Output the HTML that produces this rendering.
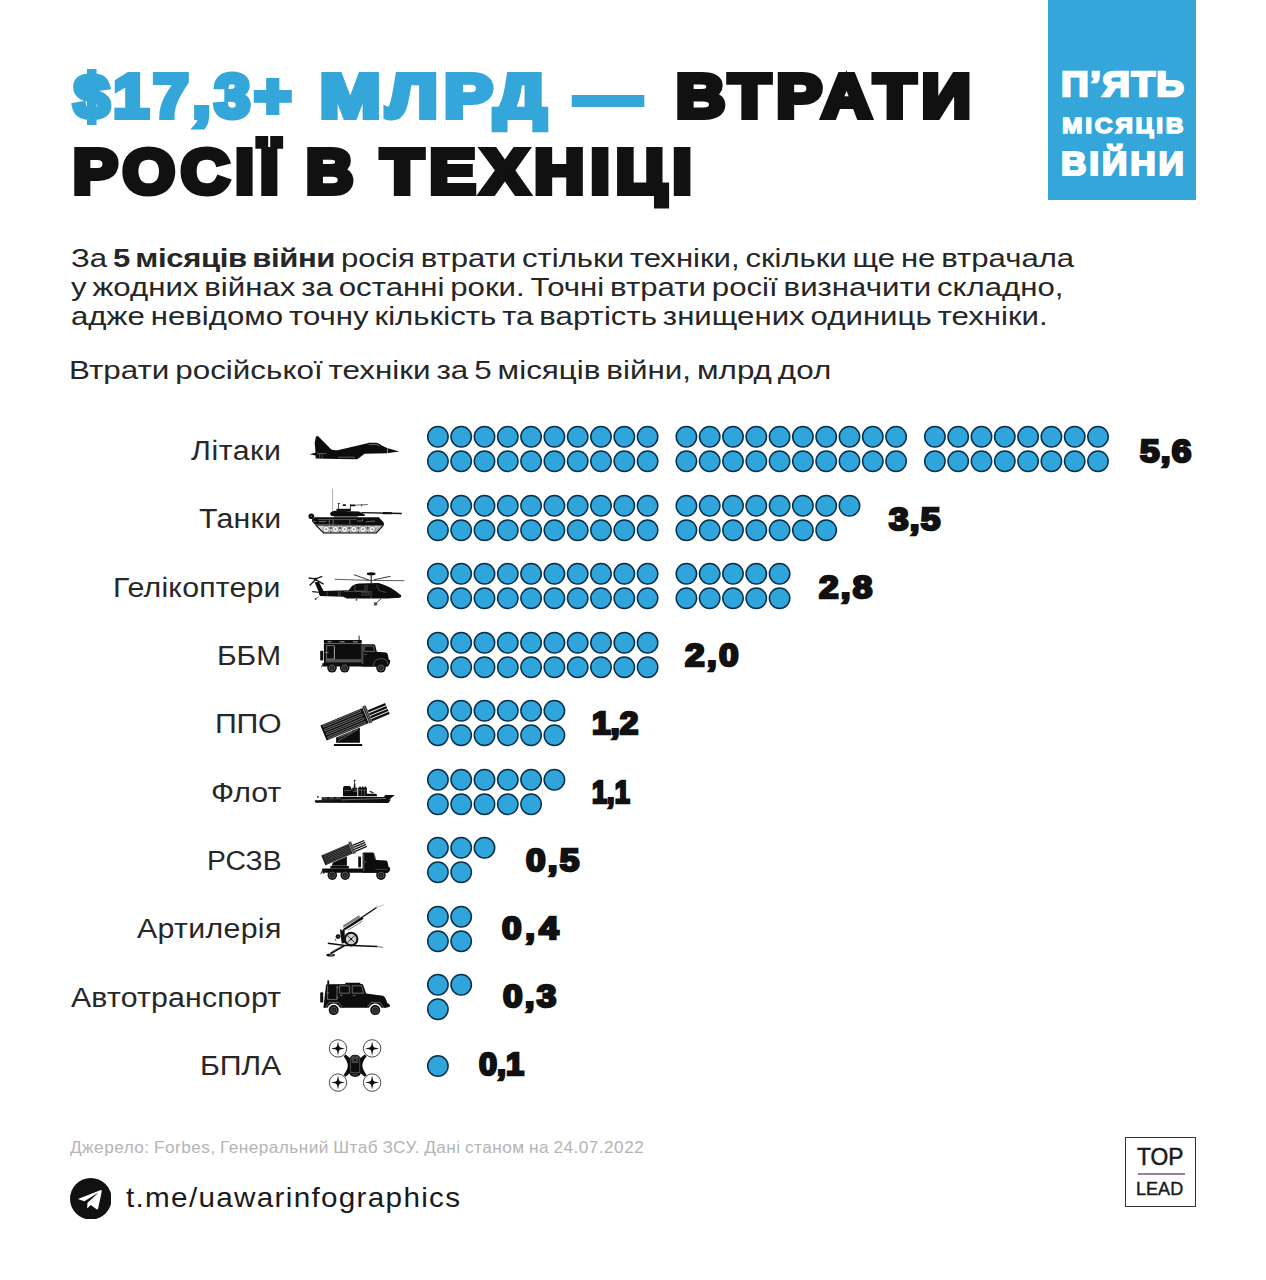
<!DOCTYPE html>
<html lang="uk">
<head>
<meta charset="utf-8">
<title>$17,3+ млрд — втрати росії в техніці</title>
<style>
html,body{margin:0;padding:0;background:#fff}
body{width:1266px;height:1280px;position:relative;overflow:hidden;font-family:"Liberation Sans",sans-serif;color:#111111}
.t{position:absolute;white-space:nowrap;line-height:1;transform-origin:0 0;display:block;margin:0;padding:0;font-weight:400}
p b{letter-spacing:-.3px}
h1,p,ul,li,figure{margin:0;padding:0;font-weight:400;font-size:inherit;list-style:none}
.badge{position:absolute;left:1048px;top:0;width:148px;height:199.5px;background:#35a6da}
.dots{position:absolute;overflow:visible}
.dots circle{fill:#30a5db;stroke:#072f4b;stroke-width:1.5}
.ico{position:absolute;left:0;top:0;overflow:visible}
.logo{position:absolute;left:1125px;top:1137px;width:69.4px;height:68.4px;border:1.3px solid #333}
.logo i{position:absolute;left:11.5px;top:35.1px;width:47px;height:1.6px;background:#9a7ca6}
.tg{position:absolute;left:69.8px;top:1177.7px}
</style>
</head>
<body>
<header>
<h1>
<span class="t" style="left:73.69px;top:65.07px;font-size:61.58px;transform:scaleX(1.0293);letter-spacing:4.2px;font-weight:700;-webkit-text-stroke:6.0px currentColor;color:#35a6da;">$17,3+</span>
<span class="t" style="left:319.72px;top:65.07px;font-size:61.58px;transform:scaleX(1.1752);letter-spacing:5.6px;font-weight:700;-webkit-text-stroke:6.0px currentColor;color:#35a6da;">МЛРД</span>
<span class="t" style="left:575.02px;top:65.07px;font-size:61.58px;transform:scaleX(1.0735);font-weight:700;-webkit-text-stroke:6.0px currentColor;color:#35a6da;">—</span>
<span class="t" style="left:675.99px;top:65.07px;font-size:61.58px;transform:scaleX(1.1051);letter-spacing:5.6px;font-weight:700;-webkit-text-stroke:6.0px currentColor;">ВТРАТИ</span>
<span class="t" style="left:72.82px;top:140.86px;font-size:62.3px;transform:scaleX(1.075);letter-spacing:5.6px;font-weight:700;-webkit-text-stroke:6.0px currentColor;">РОСІЇ</span>
<span class="t" style="left:306.15px;top:140.86px;font-size:62.3px;transform:scaleX(1.0511);font-weight:700;-webkit-text-stroke:6.0px currentColor;">В</span>
<span class="t" style="left:381.23px;top:140.86px;font-size:62.3px;transform:scaleX(1.1106);letter-spacing:5.6px;font-weight:700;-webkit-text-stroke:6.0px currentColor;">ТЕХНІЦІ</span>
</h1>
<aside class="badge">
<span class="t" style="left:12.94px;top:66.5px;font-size:35.68px;transform:scaleX(1.08);letter-spacing:1.331px;font-weight:700;-webkit-text-stroke:2.4px currentColor;color:#fff;">П’ЯТЬ</span>
<span class="t" style="left:13.58px;top:113.86px;font-size:22.73px;transform:scaleX(1.08);letter-spacing:2.519px;font-weight:700;-webkit-text-stroke:1.6px currentColor;color:#fff;">МІСЯЦІВ</span>
<span class="t" style="left:12.83px;top:148.27px;font-size:32.52px;transform:scaleX(1.08);letter-spacing:2.756px;font-weight:700;-webkit-text-stroke:2.2px currentColor;color:#fff;">ВІЙНИ</span>
</aside>
</header>
<section>
<p class="t" style="left:70.7px;top:246.46px;font-size:25.8px;transform:scaleX(1.2046);word-spacing:-2.3px;color:#262626">За <b>5 місяців війни</b> росія втрати стільки техніки, скільки ще не втрачала</p>
<p class="t" style="left:70.7px;top:275.06px;font-size:25.8px;transform:scaleX(1.2088);word-spacing:-2.3px;color:#262626">у жодних війнах за останні роки. Точні втрати росії визначити складно,</p>
<p class="t" style="left:70.7px;top:303.56px;font-size:25.8px;transform:scaleX(1.2093);word-spacing:-2.3px;color:#262626">адже невідомо точну кількість та вартість знищених одиниць техніки.</p>
<p class="t" style="left:69.47px;top:358.16px;font-size:25.8px;transform:scaleX(1.2162);word-spacing:-2.3px;color:#262626;">Втрати російської техніки за 5 місяців війни, млрд дол</p>
</section>
<main>
<ul>
<li><span class="t" style="left:190.8px;top:438.11px;font-size:26.8px;transform:scaleX(1.13);letter-spacing:0.472px;color:#272727;">Літаки</span>
<svg class="ico" role="img" aria-label="літак" style="left:305px;top:430px" width="100" height="35" viewBox="305 430 100 35" fill="#0d0d0d"><path d="M316 436.6 Q317 435.4 318.2 436.2 L331.3 449.6 Q334.5 450.6 338.5 450.1 L367.6 443.3 L369 442.7 L376.4 442.7 Q379.5 443.6 381.4 445.2 L387 448 L399.2 451.5 L387 453.3 L364.5 453.8 L361 456.4 Q358.5 459 355.4 459.3 L338 459 L315.6 458.5 L315.6 455.5 L309.5 454.2 L315.5 452.8 L314.7 442.4 Z"/><path d="M387.5 448.3 V453.2" stroke="#fff" stroke-width=".5"/><path d="M368.5 444.6 L376.5 444.4 L379.5 446" stroke="#bbb" stroke-width=".5" fill="none"/><path d="M317 453.6 H326 M338 457.2 H355" stroke="#999" stroke-width=".6"/><path d="M319.5 454 V458.3 M322 454 V458.3" stroke="#999" stroke-width=".4"/></svg>
<svg class="dots" style="left:425px;top:424.2px" width="686.0" height="50" viewBox="0 0 686.0 50"><circle cx="12.9" cy="12.75" r="10.2"/><circle cx="36.2" cy="12.75" r="10.2"/><circle cx="59.5" cy="12.75" r="10.2"/><circle cx="82.8" cy="12.75" r="10.2"/><circle cx="106.1" cy="12.75" r="10.2"/><circle cx="129.4" cy="12.75" r="10.2"/><circle cx="152.7" cy="12.75" r="10.2"/><circle cx="176.0" cy="12.75" r="10.2"/><circle cx="199.3" cy="12.75" r="10.2"/><circle cx="222.6" cy="12.75" r="10.2"/><circle cx="261.4" cy="12.75" r="10.2"/><circle cx="284.7" cy="12.75" r="10.2"/><circle cx="308.0" cy="12.75" r="10.2"/><circle cx="331.3" cy="12.75" r="10.2"/><circle cx="354.6" cy="12.75" r="10.2"/><circle cx="377.9" cy="12.75" r="10.2"/><circle cx="401.2" cy="12.75" r="10.2"/><circle cx="424.5" cy="12.75" r="10.2"/><circle cx="447.8" cy="12.75" r="10.2"/><circle cx="471.1" cy="12.75" r="10.2"/><circle cx="509.9" cy="12.75" r="10.2"/><circle cx="533.2" cy="12.75" r="10.2"/><circle cx="556.5" cy="12.75" r="10.2"/><circle cx="579.8" cy="12.75" r="10.2"/><circle cx="603.1" cy="12.75" r="10.2"/><circle cx="626.4" cy="12.75" r="10.2"/><circle cx="649.7" cy="12.75" r="10.2"/><circle cx="673.0" cy="12.75" r="10.2"/><circle cx="12.9" cy="37.25" r="10.2"/><circle cx="36.2" cy="37.25" r="10.2"/><circle cx="59.5" cy="37.25" r="10.2"/><circle cx="82.8" cy="37.25" r="10.2"/><circle cx="106.1" cy="37.25" r="10.2"/><circle cx="129.4" cy="37.25" r="10.2"/><circle cx="152.7" cy="37.25" r="10.2"/><circle cx="176.0" cy="37.25" r="10.2"/><circle cx="199.3" cy="37.25" r="10.2"/><circle cx="222.6" cy="37.25" r="10.2"/><circle cx="261.4" cy="37.25" r="10.2"/><circle cx="284.7" cy="37.25" r="10.2"/><circle cx="308.0" cy="37.25" r="10.2"/><circle cx="331.3" cy="37.25" r="10.2"/><circle cx="354.6" cy="37.25" r="10.2"/><circle cx="377.9" cy="37.25" r="10.2"/><circle cx="401.2" cy="37.25" r="10.2"/><circle cx="424.5" cy="37.25" r="10.2"/><circle cx="447.8" cy="37.25" r="10.2"/><circle cx="471.1" cy="37.25" r="10.2"/><circle cx="509.9" cy="37.25" r="10.2"/><circle cx="533.2" cy="37.25" r="10.2"/><circle cx="556.5" cy="37.25" r="10.2"/><circle cx="579.8" cy="37.25" r="10.2"/><circle cx="603.1" cy="37.25" r="10.2"/><circle cx="626.4" cy="37.25" r="10.2"/><circle cx="649.7" cy="37.25" r="10.2"/><circle cx="673.0" cy="37.25" r="10.2"/></svg>
<b class="t" style="left:1140.13px;top:434.51px;font-size:32.0px;transform:scaleX(1.1);letter-spacing:1.038px;font-weight:700;-webkit-text-stroke:2.6px currentColor;">5,6</b></li>
<li><span class="t" style="left:198.5px;top:506.41px;font-size:26.8px;transform:scaleX(1.13);letter-spacing:0.273px;color:#272727;">Танки</span>
<svg class="ico" role="img" aria-label="танк" style="left:305px;top:486px" width="100" height="50" viewBox="305 486 100 50" fill="#0d0d0d"><path d="M332.6 488.5 V510.5" stroke="#8a8a8a" stroke-width=".7"/><circle cx="311.3" cy="516.3" r="2.8"/><circle cx="311.3" cy="516.3" r=".8" fill="#666"/><path d="M314.2 516.4 H317.4" stroke="#aaa" stroke-width=".4"/><path d="M337.6 503.5 H340 M338.5 503.4 V509.2 M350.4 504.4 V510.6" stroke="#222" stroke-width=".8"/><path d="M342.8 505.1 H345.8 M350.1 505.3 H355.4" stroke="#111" stroke-width="1.7"/><path d="M355.4 505.1 L367.8 504.5" stroke="#444" stroke-width=".8"/><circle cx="361.7" cy="505.4" r=".8" fill="#444"/><rect x="336.5" y="508.8" width="14.2" height="2.2"/><path d="M330.2 513.4 Q330.6 511.6 334.6 510.8 L359 511.4 L365.2 514.8 L364.2 516 L331.6 516 Q330 515.2 330.2 513.4 Z"/><rect x="333.8" y="516" width="24" height="1.5" fill="#666"/><path d="M361.6 512.7 L401.8 513.5" stroke="#111" stroke-width="1.3"/><path d="M383 513.1 L392 513.3" stroke="#111" stroke-width="2.1"/><path d="M314.4 517.3 L378.8 517.3 L383.6 522.6 L384.2 525.2 L315.4 524.9 L312 521.6 L312 519.4 Z"/><path d="M318 519.55 H356.6" stroke="#bbb" stroke-width=".4"/><path d="M329.3 520 V524.6 M333.2 520 V524.6 M349.8 520 V524.6 M357 521 H362.6 V519.2 M366 521.8 L375 521" stroke="#c4c4c4" stroke-width=".5" fill="none"/><path d="M312.4 521.2 L316 521.6 M318.6 521.6 H326" stroke="#ddd" stroke-width=".45"/><path d="M315.3 524.6 L383.3 525.2 L376.4 533.4 L323.3 533.4 Z" fill="#d9d9d9"/><path d="M330.8 526.2 l1.5 1.7 l-1.5 1.7 l-1.5 -1.7 Z M330.8 530.6 l1.2 1.3 l-1.2 1.3 l-1.2 -1.3 Z" fill="#555"/><path d="M340.0 526.2 l1.5 1.7 l-1.5 1.7 l-1.5 -1.7 Z M340.0 530.6 l1.2 1.3 l-1.2 1.3 l-1.2 -1.3 Z" fill="#555"/><path d="M349.2 526.2 l1.5 1.7 l-1.5 1.7 l-1.5 -1.7 Z M349.2 530.6 l1.2 1.3 l-1.2 1.3 l-1.2 -1.3 Z" fill="#555"/><path d="M358.4 526.2 l1.5 1.7 l-1.5 1.7 l-1.5 -1.7 Z M358.4 530.6 l1.2 1.3 l-1.2 1.3 l-1.2 -1.3 Z" fill="#555"/><path d="M367.6 526.2 l1.5 1.7 l-1.5 1.7 l-1.5 -1.7 Z M367.6 530.6 l1.2 1.3 l-1.2 1.3 l-1.2 -1.3 Z" fill="#555"/><circle cx="326.2" cy="529.3" r="3.2" fill="#f4f4f4" stroke="#6a6a6a" stroke-width=".7"/><circle cx="326.2" cy="529.3" r="1" fill="#8a8a8a"/><circle cx="335.4" cy="529.3" r="3.2" fill="#f4f4f4" stroke="#6a6a6a" stroke-width=".7"/><circle cx="335.4" cy="529.3" r="1" fill="#8a8a8a"/><circle cx="344.6" cy="529.3" r="3.2" fill="#f4f4f4" stroke="#6a6a6a" stroke-width=".7"/><circle cx="344.6" cy="529.3" r="1" fill="#8a8a8a"/><circle cx="353.8" cy="529.3" r="3.2" fill="#f4f4f4" stroke="#6a6a6a" stroke-width=".7"/><circle cx="353.8" cy="529.3" r="1" fill="#8a8a8a"/><circle cx="363.0" cy="529.3" r="3.2" fill="#f4f4f4" stroke="#6a6a6a" stroke-width=".7"/><circle cx="363.0" cy="529.3" r="1" fill="#8a8a8a"/><circle cx="372.2" cy="529.3" r="3.2" fill="#f4f4f4" stroke="#6a6a6a" stroke-width=".7"/><circle cx="372.2" cy="529.3" r="1" fill="#8a8a8a"/><path d="M378 526.4 L372.6 532.6 M380.4 526 L374.8 532.8" stroke="#555" stroke-width=".6"/><path d="M315.5 524.9 L323.5 533 L376.3 533 L383.3 525.3" fill="none" stroke="#111" stroke-width="1.2"/><path d="M316 525.2 H383" stroke="#1a1a1a" stroke-width=".9"/></svg>
<svg class="dots" style="left:425px;top:492.7px" width="437.5" height="50" viewBox="0 0 437.5 50"><circle cx="12.9" cy="12.75" r="10.2"/><circle cx="36.2" cy="12.75" r="10.2"/><circle cx="59.5" cy="12.75" r="10.2"/><circle cx="82.8" cy="12.75" r="10.2"/><circle cx="106.1" cy="12.75" r="10.2"/><circle cx="129.4" cy="12.75" r="10.2"/><circle cx="152.7" cy="12.75" r="10.2"/><circle cx="176.0" cy="12.75" r="10.2"/><circle cx="199.3" cy="12.75" r="10.2"/><circle cx="222.6" cy="12.75" r="10.2"/><circle cx="261.4" cy="12.75" r="10.2"/><circle cx="284.7" cy="12.75" r="10.2"/><circle cx="308.0" cy="12.75" r="10.2"/><circle cx="331.3" cy="12.75" r="10.2"/><circle cx="354.6" cy="12.75" r="10.2"/><circle cx="377.9" cy="12.75" r="10.2"/><circle cx="401.2" cy="12.75" r="10.2"/><circle cx="424.5" cy="12.75" r="10.2"/><circle cx="12.9" cy="37.25" r="10.2"/><circle cx="36.2" cy="37.25" r="10.2"/><circle cx="59.5" cy="37.25" r="10.2"/><circle cx="82.8" cy="37.25" r="10.2"/><circle cx="106.1" cy="37.25" r="10.2"/><circle cx="129.4" cy="37.25" r="10.2"/><circle cx="152.7" cy="37.25" r="10.2"/><circle cx="176.0" cy="37.25" r="10.2"/><circle cx="199.3" cy="37.25" r="10.2"/><circle cx="222.6" cy="37.25" r="10.2"/><circle cx="261.4" cy="37.25" r="10.2"/><circle cx="284.7" cy="37.25" r="10.2"/><circle cx="308.0" cy="37.25" r="10.2"/><circle cx="331.3" cy="37.25" r="10.2"/><circle cx="354.6" cy="37.25" r="10.2"/><circle cx="377.9" cy="37.25" r="10.2"/><circle cx="401.2" cy="37.25" r="10.2"/></svg>
<b class="t" style="left:889.43px;top:502.71px;font-size:32.0px;transform:scaleX(1.1);letter-spacing:1.084px;font-weight:700;-webkit-text-stroke:2.6px currentColor;">3,5</b></li>
<li><span class="t" style="left:113.14px;top:574.71px;font-size:26.8px;transform:scaleX(1.13);letter-spacing:0.168px;color:#272727;">Гелікоптери</span>
<svg class="ico" role="img" aria-label="гелікоптер" style="left:305px;top:568px" width="102" height="42" viewBox="305 568 102 42" fill="#0d0d0d"><ellipse cx="371.2" cy="573.8" rx="4.4" ry="1.5"/><path d="M371.2 575 V583.5" stroke="#111" stroke-width="1.1"/><path d="M334.8 579.3 L370 580.4 L404.4 580.7" stroke="#333" stroke-width=".8" fill="none"/><path d="M353.9 574.7 L369.4 580.2 M373.8 579.8 L390.5 576.3" stroke="#222" stroke-width=".9"/><path d="M308.6 578 L315.6 578.9 L322.3 576.3 M309.6 585.4 L315.6 579.6 L323.6 584.2" stroke="#1a1a1a" stroke-width="1.4" fill="none"/><circle cx="315.6" cy="579.2" r="1.4"/><path d="M314.6 582.2 L318.8 581.8 L323.6 591 L348.6 590.2 L352 586 Q355 584 359 583.6 L378.4 583.1 Q388 585.6 395.6 591 L401.2 595.2 Q401.6 597 400 597.7 L387 598.6 L347 598.6 L343.2 596.8 L320 596 Q318.6 594.4 319 592.6 Z"/><path d="M312.2 591.7 L321 592.5" stroke="#111" stroke-width="1.2"/><path d="M318.8 596.5 L315.8 598.8" stroke="#333" stroke-width=".7"/><circle cx="315.6" cy="599" r="1" fill="#444"/><path d="M381 599 L376.6 602.6" stroke="#333" stroke-width=".9"/><circle cx="375.6" cy="603.8" r="1.9" fill="#555"/><circle cx="356.5" cy="599.8" r=".9" fill="#333"/><path d="M355 585.4 V591 H365 V585 M367 584.6 V591.5 M376.6 584.4 L379 590.6 L386 592.4 M344 591.6 L355 591.4 L372 591.8 M327.2 591.6 V596 M338.6 591.3 V596.4 M340 591.3 V596.4 M371 592 V598 M361 592.8 H369 V595 H361" stroke="#8a8a8a" stroke-width=".45" fill="none"/></svg>
<svg class="dots" style="left:425px;top:561.2px" width="367.6" height="50" viewBox="0 0 367.6 50"><circle cx="12.9" cy="12.75" r="10.2"/><circle cx="36.2" cy="12.75" r="10.2"/><circle cx="59.5" cy="12.75" r="10.2"/><circle cx="82.8" cy="12.75" r="10.2"/><circle cx="106.1" cy="12.75" r="10.2"/><circle cx="129.4" cy="12.75" r="10.2"/><circle cx="152.7" cy="12.75" r="10.2"/><circle cx="176.0" cy="12.75" r="10.2"/><circle cx="199.3" cy="12.75" r="10.2"/><circle cx="222.6" cy="12.75" r="10.2"/><circle cx="261.4" cy="12.75" r="10.2"/><circle cx="284.7" cy="12.75" r="10.2"/><circle cx="308.0" cy="12.75" r="10.2"/><circle cx="331.3" cy="12.75" r="10.2"/><circle cx="354.6" cy="12.75" r="10.2"/><circle cx="12.9" cy="37.25" r="10.2"/><circle cx="36.2" cy="37.25" r="10.2"/><circle cx="59.5" cy="37.25" r="10.2"/><circle cx="82.8" cy="37.25" r="10.2"/><circle cx="106.1" cy="37.25" r="10.2"/><circle cx="129.4" cy="37.25" r="10.2"/><circle cx="152.7" cy="37.25" r="10.2"/><circle cx="176.0" cy="37.25" r="10.2"/><circle cx="199.3" cy="37.25" r="10.2"/><circle cx="222.6" cy="37.25" r="10.2"/><circle cx="261.4" cy="37.25" r="10.2"/><circle cx="284.7" cy="37.25" r="10.2"/><circle cx="308.0" cy="37.25" r="10.2"/><circle cx="331.3" cy="37.25" r="10.2"/><circle cx="354.6" cy="37.25" r="10.2"/></svg>
<b class="t" style="left:818.63px;top:570.91px;font-size:32.0px;transform:scaleX(1.1);letter-spacing:2.038px;font-weight:700;-webkit-text-stroke:2.6px currentColor;">2,8</b></li>
<li><span class="t" style="left:216.77px;top:643.01px;font-size:26.8px;transform:scaleX(1.1131);color:#272727;">ББМ</span>
<svg class="ico" role="img" aria-label="броньована машина" style="left:316px;top:632px" width="80" height="44" viewBox="316 632 80 44" fill="#0d0d0d"><path d="M359.1 635.6 V640.2" stroke="#222" stroke-width="1"/><rect x="323.9" y="640" width="37.8" height="3.4"/><path d="M327.6 641.8 H331.4 M339.6 641.8 H344.6 M353 641.8 H357.6" stroke="#eee" stroke-width=".7"/><rect x="323.9" y="643.6" width="37.8" height="20.6"/><rect x="325.6" y="659.2" width="35.6" height="3.2" fill="#555"/><path d="M322.4 663.2 H388 V666.4 H322.4 Z"/><rect x="320.2" y="650.8" width="3" height="9.8" rx=".8"/><path d="M326.6 645.6 H334.4 V659 H326.6 Z M334.4 647 V659 M324.8 652.6 H328.6" stroke="#cfcfcf" stroke-width=".5" fill="none"/><path d="M321.2 667.4 L323.6 662.8" stroke="#333" stroke-width=".8"/><path d="M361.7 644.3 L373.6 644.3 Q375 644.6 375.4 646 L376.8 651.8 L386 652.6 Q387.4 653 387.8 654.6 L388.8 659.6 L390.2 660.4 L389.8 663.6 L388 666.4 L361.7 666.4 Z"/><path d="M364.2 646 H373.4 L374.6 651.4 H364.2 Z M362.8 645.5 V664 M364.4 654.6 H366.6" stroke="#bdbdbd" stroke-width=".5" fill="none"/><path d="M373 666.2 Q374.4 658.8 381 658.6 Q387 658.8 388 664" stroke="#999" stroke-width=".5" fill="none"/><circle cx="332" cy="667.8" r="4.8"/><circle cx="332" cy="667.8" r="2.98" fill="none" stroke="#9a9a9a" stroke-width=".55"/><circle cx="332" cy="667.8" r="1.44" fill="#2a2a2a" stroke="#777" stroke-width=".3"/><circle cx="344.7" cy="667.8" r="4.8"/><circle cx="344.7" cy="667.8" r="2.98" fill="none" stroke="#9a9a9a" stroke-width=".55"/><circle cx="344.7" cy="667.8" r="1.44" fill="#2a2a2a" stroke="#777" stroke-width=".3"/><circle cx="381" cy="667.8" r="4.8"/><circle cx="381" cy="667.8" r="2.98" fill="none" stroke="#9a9a9a" stroke-width=".55"/><circle cx="381" cy="667.8" r="1.44" fill="#2a2a2a" stroke="#777" stroke-width=".3"/></svg>
<svg class="dots" style="left:425px;top:629.7px" width="235.6" height="50" viewBox="0 0 235.6 50"><circle cx="12.9" cy="12.75" r="10.2"/><circle cx="36.2" cy="12.75" r="10.2"/><circle cx="59.5" cy="12.75" r="10.2"/><circle cx="82.8" cy="12.75" r="10.2"/><circle cx="106.1" cy="12.75" r="10.2"/><circle cx="129.4" cy="12.75" r="10.2"/><circle cx="152.7" cy="12.75" r="10.2"/><circle cx="176.0" cy="12.75" r="10.2"/><circle cx="199.3" cy="12.75" r="10.2"/><circle cx="222.6" cy="12.75" r="10.2"/><circle cx="12.9" cy="37.25" r="10.2"/><circle cx="36.2" cy="37.25" r="10.2"/><circle cx="59.5" cy="37.25" r="10.2"/><circle cx="82.8" cy="37.25" r="10.2"/><circle cx="106.1" cy="37.25" r="10.2"/><circle cx="129.4" cy="37.25" r="10.2"/><circle cx="152.7" cy="37.25" r="10.2"/><circle cx="176.0" cy="37.25" r="10.2"/><circle cx="199.3" cy="37.25" r="10.2"/><circle cx="222.6" cy="37.25" r="10.2"/></svg>
<b class="t" style="left:684.83px;top:639.11px;font-size:32.0px;transform:scaleX(1.1);letter-spacing:2.129px;font-weight:700;-webkit-text-stroke:2.6px currentColor;">2,0</b></li>
<li><span class="t" style="left:214.74px;top:711.31px;font-size:26.8px;transform:scaleX(1.13);letter-spacing:-0.251px;color:#272727;">ППО</span>
<svg class="ico" role="img" aria-label="зенітна установка" style="left:316px;top:698px" width="80" height="52" viewBox="316 698 80 52" fill="#0d0d0d"><path d="M336.1 742.8 V737.5 L359.9 727.4 V742.8 Z"/><path d="M338 741 L358 729.4 M338 738 L352 731.6" stroke="#bbb" stroke-width=".5"/><rect x="333.9" y="743.9" width="28.3" height="2" rx=".5"/><g transform="translate(320.4 725.4) rotate(-22.4)"><rect x="0" y="0" width="45.6" height="16.3"/><rect x="2" y="1.14" width="41.0" height="1.80" rx="0.90" fill="none" stroke="#d6d6d6" stroke-width="0.42"/><rect x="2" y="5.21" width="41.0" height="1.80" rx="0.90" fill="none" stroke="#d6d6d6" stroke-width="0.42"/><rect x="2" y="9.29" width="41.0" height="1.80" rx="0.90" fill="none" stroke="#d6d6d6" stroke-width="0.42"/><rect x="2" y="13.36" width="41.0" height="1.80" rx="0.90" fill="none" stroke="#d6d6d6" stroke-width="0.42"/><rect x="45.4" y="-1.4" width="4.4" height="18.3" fill="#8f8f8f"/><path d="M46.81 -1.4 V16.90" stroke="#222" stroke-width="0.88"/><path d="M48.39 -1.4 V16.90" stroke="#222" stroke-width="0.88"/><path d="M49.6 5.19 H68.4" stroke="#111" stroke-width="2.3"/><path d="M49.6 8.36 H68.4" stroke="#111" stroke-width="2.3"/><path d="M49.6 11.54 H68.4" stroke="#111" stroke-width="2.3"/><path d="M49.6 14.71 H68.4" stroke="#111" stroke-width="2.3"/></g></svg>
<svg class="dots" style="left:425px;top:698.2px" width="142.4" height="50" viewBox="0 0 142.4 50"><circle cx="12.9" cy="12.75" r="10.2"/><circle cx="36.2" cy="12.75" r="10.2"/><circle cx="59.5" cy="12.75" r="10.2"/><circle cx="82.8" cy="12.75" r="10.2"/><circle cx="106.1" cy="12.75" r="10.2"/><circle cx="129.4" cy="12.75" r="10.2"/><circle cx="12.9" cy="37.25" r="10.2"/><circle cx="36.2" cy="37.25" r="10.2"/><circle cx="59.5" cy="37.25" r="10.2"/><circle cx="82.8" cy="37.25" r="10.2"/><circle cx="106.1" cy="37.25" r="10.2"/><circle cx="129.4" cy="37.25" r="10.2"/></svg>
<b class="t" style="left:591.97px;top:707.31px;font-size:32.0px;transform:scaleX(1.0432);font-weight:700;-webkit-text-stroke:2.6px currentColor;">1,2</b></li>
<li><span class="t" style="left:210.77px;top:779.61px;font-size:26.8px;transform:scaleX(1.13);letter-spacing:0.109px;color:#272727;">Флот</span>
<svg class="ico" role="img" aria-label="корабель" style="left:310px;top:776px" width="90" height="30" viewBox="310 776 90 30" fill="#0d0d0d"><path d="M314.8 800.6 L388.4 800.2 L394.8 795 L385.2 795 L384 797 L340.8 797 L340.8 799.3 L321.7 799.3 L321.7 800.2 Z" /><path d="M314.8 800.3 Q314.4 802.4 316 802.8 L388.4 802.9 L391 799.4 Z"/><path d="M321.7 797 H340.8 V799.6 H321.7 Z"/><path d="M322.4 798 H340 " stroke="#eee" stroke-width=".5" stroke-dasharray="5 1.6"/><path d="M341 799.9 L386 798.4" stroke="#ddd" stroke-width=".45"/><circle cx="317.9" cy="796.8" r=".9"/><path d="M343 796.2 V788 Q343.2 786.2 344.8 786.1 H349.2 Q350.8 786.3 351.4 788.4 L352.2 790.6 V787.8 H357.3 V796.2 Z"/><path d="M354.7 779.6 L355.6 787.8 H353.6 Z"/><circle cx="354.6" cy="780.6" r=".9"/><path d="M358.2 796.2 V787.4 H359.4 V786.6 H360.8 V787.4 H362 V786.6 H363.4 V787.4 H364.6 V786.6 H366 V787.4 H366.9 V793.8 H376.4 L377.2 796.2 Z"/><path d="M369.8 790.4 L374 792.4 L373 793.6 L369.4 791.8 Z" fill="#333"/><path d="M343.6 790.4 H351 M352.8 791.4 H357 M358.8 790 H366.4 M361.6 790 V795.6 M364.6 790 V795.6 M354 789.4 H356.4 V791.4" stroke="#aaa" stroke-width=".45" fill="none"/></svg>
<svg class="dots" style="left:425px;top:766.7px" width="142.4" height="50" viewBox="0 0 142.4 50"><circle cx="12.9" cy="12.75" r="10.2"/><circle cx="36.2" cy="12.75" r="10.2"/><circle cx="59.5" cy="12.75" r="10.2"/><circle cx="82.8" cy="12.75" r="10.2"/><circle cx="106.1" cy="12.75" r="10.2"/><circle cx="129.4" cy="12.75" r="10.2"/><circle cx="12.9" cy="37.25" r="10.2"/><circle cx="36.2" cy="37.25" r="10.2"/><circle cx="59.5" cy="37.25" r="10.2"/><circle cx="82.8" cy="37.25" r="10.2"/><circle cx="106.1" cy="37.25" r="10.2"/></svg>
<b class="t" style="left:592.11px;top:775.51px;font-size:32.0px;transform:scaleX(0.849);font-weight:700;-webkit-text-stroke:2.6px currentColor;">1,1</b></li>
<li><span class="t" style="left:206.69px;top:847.91px;font-size:26.8px;transform:scaleX(1.0544);color:#272727;">РСЗВ</span>
<svg class="ico" role="img" aria-label="реактивна система залпового вогню" style="left:316px;top:836px" width="80" height="48" viewBox="316 836 80 48" fill="#0d0d0d"><path d="M331.7 865.8 L333 862.5 L346.9 856.6 V865.8 Z"/><rect x="330.4" y="866" width="18.4" height="2.6"/><path d="M322.2 868.5 H388 V872.8 H322.2 Z"/><path d="M320.6 874.2 L323.4 869 M323.4 874.2 L325.8 869.4" stroke="#222" stroke-width=".9"/><rect x="358.2" y="856.6" width="2.8" height="10.8" rx=".8"/><path d="M362.6 853.4 Q362.6 852.4 363.6 852.4 H372.8 Q374 852.5 374.4 853.8 L376.2 860 L386 860.6 Q387.2 860.9 387.6 862.2 L388.6 867 L390.2 867.8 L389.8 870.8 L388 872.8 H362.6 Z"/><path d="M363.8 853.6 V871 M364.6 862 H366.4 M374 853.8 L375.6 860" stroke="#bdbdbd" stroke-width=".45" fill="none"/><path d="M375.4 869.4 H387.6" stroke="#777" stroke-width=".5"/><g transform="translate(321.3 855.4) rotate(-23.1)"><rect x="0" y="0" width="29.8" height="10.7"/><path d="M1.2 0.76 H29.0" stroke="#8c8c8c" stroke-width="0.45"/><path d="M1.2 2.29 H29.0" stroke="#8c8c8c" stroke-width="0.45"/><path d="M1.2 3.82 H29.0" stroke="#8c8c8c" stroke-width="0.45"/><path d="M1.2 5.35 H29.0" stroke="#8c8c8c" stroke-width="0.45"/><path d="M1.2 6.88 H29.0" stroke="#8c8c8c" stroke-width="0.45"/><path d="M1.2 8.41 H29.0" stroke="#8c8c8c" stroke-width="0.45"/><path d="M1.2 9.94 H29.0" stroke="#8c8c8c" stroke-width="0.45"/><rect x="29.6" y="-1.4" width="3.4" height="12.7" fill="#8f8f8f"/><path d="M30.69 -1.4 V11.30" stroke="#222" stroke-width="0.68"/><path d="M31.91 -1.4 V11.30" stroke="#222" stroke-width="0.68"/><path d="M32.8 3.17 H45.4" stroke="#111" stroke-width="1.35"/><path d="M32.8 5.32 H45.4" stroke="#111" stroke-width="1.35"/><path d="M32.8 7.47 H45.4" stroke="#111" stroke-width="1.35"/><path d="M32.8 9.62 H45.4" stroke="#111" stroke-width="1.35"/></g><circle cx="332.3" cy="875.1" r="4.8"/><circle cx="332.3" cy="875.1" r="2.98" fill="none" stroke="#9a9a9a" stroke-width=".55"/><circle cx="332.3" cy="875.1" r="1.44" fill="#2a2a2a" stroke="#777" stroke-width=".3"/><circle cx="345.2" cy="875.1" r="4.8"/><circle cx="345.2" cy="875.1" r="2.98" fill="none" stroke="#9a9a9a" stroke-width=".55"/><circle cx="345.2" cy="875.1" r="1.44" fill="#2a2a2a" stroke="#777" stroke-width=".3"/><circle cx="381" cy="875.1" r="4.8"/><circle cx="381" cy="875.1" r="2.98" fill="none" stroke="#9a9a9a" stroke-width=".55"/><circle cx="381" cy="875.1" r="1.44" fill="#2a2a2a" stroke="#777" stroke-width=".3"/></svg>
<svg class="dots" style="left:425px;top:835.2px" width="72.5" height="50" viewBox="0 0 72.5 50"><circle cx="12.9" cy="12.75" r="10.2"/><circle cx="36.2" cy="12.75" r="10.2"/><circle cx="59.5" cy="12.75" r="10.2"/><circle cx="12.9" cy="37.25" r="10.2"/><circle cx="36.2" cy="37.25" r="10.2"/></svg>
<b class="t" style="left:525.83px;top:843.71px;font-size:32.0px;transform:scaleX(1.1);letter-spacing:1.947px;font-weight:700;-webkit-text-stroke:2.6px currentColor;">0,5</b></li>
<li><span class="t" style="left:137.3px;top:916.21px;font-size:26.8px;transform:scaleX(1.13);letter-spacing:0.296px;color:#272727;">Артилерія</span>
<svg class="ico" role="img" aria-label="гаубиця" style="left:316px;top:898px" width="80" height="64" viewBox="316 898 80 64" fill="#0d0d0d"><path d="M343 930 L376.6 907.5" stroke="#111" stroke-width="1.5"/><path d="M376.6 907.5 L383.8 904.7" stroke="#aaa" stroke-width=".8"/><path d="M376 906.4 L378.6 904.8" stroke="#bbb" stroke-width=".6"/><path d="M343.2 926.6 L359.6 916.2" stroke="#9a9a9a" stroke-width="2.2"/><path d="M344.4 929.4 L363 917.8" stroke="#111" stroke-width="2"/><path d="M348 930.2 L362.4 921.2" stroke="#777" stroke-width="1"/><path d="M343.6 925.8 L359.2 915.8 M343.4 927.4 L360 917" stroke="#333" stroke-width=".45"/><path d="M340 929 L342.4 930.6 L344.6 929.4 L345 943 L341.8 943.4 L340.6 936 Z"/><circle cx="338" cy="936.6" r="2.4"/><circle cx="338" cy="936.6" r=".8" fill="#555"/><path d="M335.2 938.6 L335.8 941" stroke="#333" stroke-width=".7"/><circle cx="351.1" cy="939.1" r="6.3" fill="#d2d2d2" stroke="#111" stroke-width="2.1"/><path d="M347.8 935.8 L354.4 942.4 M354.4 935.8 L347.8 942.4" stroke="#333" stroke-width="1"/><circle cx="351.1" cy="939.1" r="1.2" fill="#111"/><path d="M327.8 943.2 L345 945.6 L352 945.6 L377.4 946.6" fill="none" stroke="#111" stroke-width="1.5"/><path d="M377.4 946.6 L383.2 947.4" stroke="#777" stroke-width="1"/><path d="M344.2 945.6 L330.6 953.4" stroke="#111" stroke-width="2.1"/><path d="M342.4 945.8 L330.2 952.6" stroke="#bbb" stroke-width=".45"/><ellipse cx="330.6" cy="955" rx="4.3" ry="1.5"/><ellipse cx="331.6" cy="954.9" rx="2" ry=".6" fill="#999"/></svg>
<svg class="dots" style="left:425px;top:903.7px" width="49.2" height="50" viewBox="0 0 49.2 50"><circle cx="12.9" cy="12.75" r="10.2"/><circle cx="36.2" cy="12.75" r="10.2"/><circle cx="12.9" cy="37.25" r="10.2"/><circle cx="36.2" cy="37.25" r="10.2"/></svg>
<b class="t" style="left:502.43px;top:911.91px;font-size:32.0px;transform:scaleX(1.1);letter-spacing:3.447px;font-weight:700;-webkit-text-stroke:2.6px currentColor;">0,4</b></li>
<li><span class="t" style="left:71.4px;top:984.51px;font-size:26.8px;transform:scaleX(1.13);letter-spacing:0.154px;color:#272727;">Автотранспорт</span>
<svg class="ico" role="img" aria-label="автомобіль" style="left:316px;top:976px" width="80" height="44" viewBox="316 976 80 44" fill="#0d0d0d"><rect x="327.3" y="980.2" width="1.9" height="4.6" rx=".9"/><rect x="345.2" y="982.8" width="15.2" height="1.6" rx=".5"/><rect x="320.2" y="992.2" width="3" height="10.4" rx=".9"/><path d="M323.4 1007.8 L326 985.2 Q326.2 984.2 327.2 984.2 L361.8 983.9 Q362.8 984 363.2 985 L366.2 993.6 L382.8 995.8 Q384.2 996.2 385 997.6 L386.4 1000.4 L387.2 1003 L390 1004.8 L389.6 1006.8 L386.2 1007.8 Z"/><path d="M339.6 985.8 H349.4 V993.2 H339.6 Z M352.2 985.8 H361.6 L363.6 993.2 H352.2 Z M327.6 985.6 V999.6 H337 V985.6 M326.6 992.8 H329 M340 995.4 H342.6 M352.8 995.4 H355.6 M336.6 987.2 H338.4 M336.6 997.4 H338.4" stroke="#c8c8c8" stroke-width=".5" fill="none"/><circle cx="333.7" cy="1010.1" r="6.6" fill="#fff"/><circle cx="375.2" cy="1010.1" r="6.6" fill="#fff"/><path d="M324.6 1007.6 L328.4 1001.4 H339 L343.4 1007.6 M366.2 1007.6 L370.2 1001.4 H380.4 L385 1007.6" stroke="#111" stroke-width="1.2" fill="none"/><path d="M325.8 1007.4 L329 1002.4 H338.4 L342.2 1007.4 M367.4 1007.4 L370.8 1002.4 H379.8 L383.6 1007.4" stroke="#ddd" stroke-width=".4" fill="none"/><circle cx="333.7" cy="1010.1" r="5"/><circle cx="333.7" cy="1010.1" r="3.10" fill="none" stroke="#9a9a9a" stroke-width=".55"/><circle cx="333.7" cy="1010.1" r="1.50" fill="#2a2a2a" stroke="#777" stroke-width=".3"/><circle cx="375.2" cy="1010.1" r="5"/><circle cx="375.2" cy="1010.1" r="3.10" fill="none" stroke="#9a9a9a" stroke-width=".55"/><circle cx="375.2" cy="1010.1" r="1.50" fill="#2a2a2a" stroke="#777" stroke-width=".3"/></svg>
<svg class="dots" style="left:425px;top:972.2px" width="49.2" height="50" viewBox="0 0 49.2 50"><circle cx="12.9" cy="12.75" r="10.2"/><circle cx="36.2" cy="12.75" r="10.2"/><circle cx="12.9" cy="37.25" r="10.2"/></svg>
<b class="t" style="left:502.53px;top:980.11px;font-size:32.0px;transform:scaleX(1.1);letter-spacing:2.038px;font-weight:700;-webkit-text-stroke:2.6px currentColor;">0,3</b></li>
<li><span class="t" style="left:199.54px;top:1052.81px;font-size:26.8px;transform:scaleX(1.13);letter-spacing:-0.144px;color:#272727;">БПЛА</span>
<svg class="ico" role="img" aria-label="безпілотник" style="left:326px;top:1036px" width="60" height="60" viewBox="326 1036 60 60" fill="#0d0d0d"><path d="M343.6 1056.2 L345.6 1054.4 Q349.6 1058 351 1058.4 L359.2 1058.4 Q360.8 1057.8 364.6 1054.4 L366.6 1056.2 Q362.2 1061.8 362.4 1065.6 Q362.4 1069.4 366.6 1075 L364.6 1076.8 Q361 1073.2 359.2 1072.8 L351 1072.8 Q349.4 1073.2 345.6 1076.8 L343.6 1075 Q347.8 1069.6 347.8 1065.6 Q347.8 1061.6 343.6 1056.2 Z"/><path d="M349.5 1060.6 Q349.5 1054.8 355.1 1054.8 Q360.8 1054.8 360.8 1060.6 V1072.8 Q360.4 1076.9 355.1 1076.9 Q349.9 1076.9 349.5 1072.8 Z"/><path d="M350.6 1060.4 Q350.8 1056 355.1 1056 Q359.6 1056 359.7 1060.4 V1072.6 H350.6 Z M352.2 1057.4 H357.8 V1062.6 H352.2 Z M353.4 1058.6 H356.6 V1061.4 H353.4 Z M352.4 1074.4 Q355 1075.6 357.8 1074.4" stroke="#9c9c9c" stroke-width=".45" fill="none"/><circle cx="338" cy="1048.4" r="8.7" fill="#fff" stroke="#333" stroke-width=".9"/><path d="M331.0 1048.4 L335.8 1047.4 L337.0 1046.2 L338 1041.4 L339.0 1046.2 L340.2 1047.4 L345.0 1048.4 L340.2 1049.4 L339.0 1050.6000000000001 L338 1055.4 L337.0 1050.6000000000001 L335.8 1049.4 Z"/><circle cx="338" cy="1048.4" r="2"/><circle cx="372.1" cy="1048.4" r="8.7" fill="#fff" stroke="#333" stroke-width=".9"/><path d="M365.1 1048.4 L369.90000000000003 1047.4 L371.1 1046.2 L372.1 1041.4 L373.1 1046.2 L374.3 1047.4 L379.1 1048.4 L374.3 1049.4 L373.1 1050.6000000000001 L372.1 1055.4 L371.1 1050.6000000000001 L369.90000000000003 1049.4 Z"/><circle cx="372.1" cy="1048.4" r="2"/><circle cx="338" cy="1082.6" r="8.7" fill="#fff" stroke="#333" stroke-width=".9"/><path d="M331.0 1082.6 L335.8 1081.6 L337.0 1080.3999999999999 L338 1075.6 L339.0 1080.3999999999999 L340.2 1081.6 L345.0 1082.6 L340.2 1083.6 L339.0 1084.8 L338 1089.6 L337.0 1084.8 L335.8 1083.6 Z"/><circle cx="338" cy="1082.6" r="2"/><circle cx="372.1" cy="1082.6" r="8.7" fill="#fff" stroke="#333" stroke-width=".9"/><path d="M365.1 1082.6 L369.90000000000003 1081.6 L371.1 1080.3999999999999 L372.1 1075.6 L373.1 1080.3999999999999 L374.3 1081.6 L379.1 1082.6 L374.3 1083.6 L373.1 1084.8 L372.1 1089.6 L371.1 1084.8 L369.90000000000003 1083.6 Z"/><circle cx="372.1" cy="1082.6" r="2"/></svg>
<svg class="dots" style="left:425px;top:1040.7px" width="25.9" height="50" viewBox="0 0 25.9 50"><circle cx="12.9" cy="25.00" r="10.2"/></svg>
<b class="t" style="left:478.7px;top:1048.31px;font-size:32.0px;transform:scaleX(1.0135);font-weight:700;-webkit-text-stroke:2.6px currentColor;">0,1</b></li>
</ul>
</main>
<footer>
<p class="t" style="left:69.8px;top:1139.94px;font-size:15.9px;transform:scaleX(1.08);word-spacing:-0.8px;letter-spacing:0.457px;color:#b4b4b4;">Джерело: Forbes, Генеральний Штаб ЗСУ. Дані станом на 24.07.2022</p>
<svg class="tg" width="41.6" height="41.6" viewBox="0 0 41.6 41.6"><circle cx="20.8" cy="20.8" r="20.8" fill="#111"/><path d="M9.2 20.6 L30.2 12.2 C31.2 11.8 32 12.4 31.7 13.8 L28.2 30.2 C28 31.4 27.2 31.7 26.2 31.1 L20.8 27.1 L18.2 29.6 C17.9 29.9 17.6 30.2 17.1 30.2 L17.5 24.7 L27.6 15.6 C28 15.2 27.5 15 26.9 15.4 L14.4 23.3 L9.1 21.6 C8 21.3 8 20.9 9.2 20.6 Z" fill="#fff"/></svg>
<span class="t" style="left:126.1px;top:1183.8px;font-size:28.0px;transform:scaleX(1.06);letter-spacing:1.223px;color:#1a1a1a;">t.me/uawarinfographics</span>
<div class="logo"><span class="t" style="left:11.25px;top:8.25px;font-size:23.04px;transform:scaleX(0.9901);-webkit-text-stroke:0.5px currentColor;color:#1a1a1a;">TOP</span><i></i><span class="t" style="left:10.2px;top:42.69px;font-size:17.97px;transform:scaleX(1.0057);-webkit-text-stroke:0.4px currentColor;color:#1a1a1a;">LEAD</span></div>
</footer>
</body>
</html>
